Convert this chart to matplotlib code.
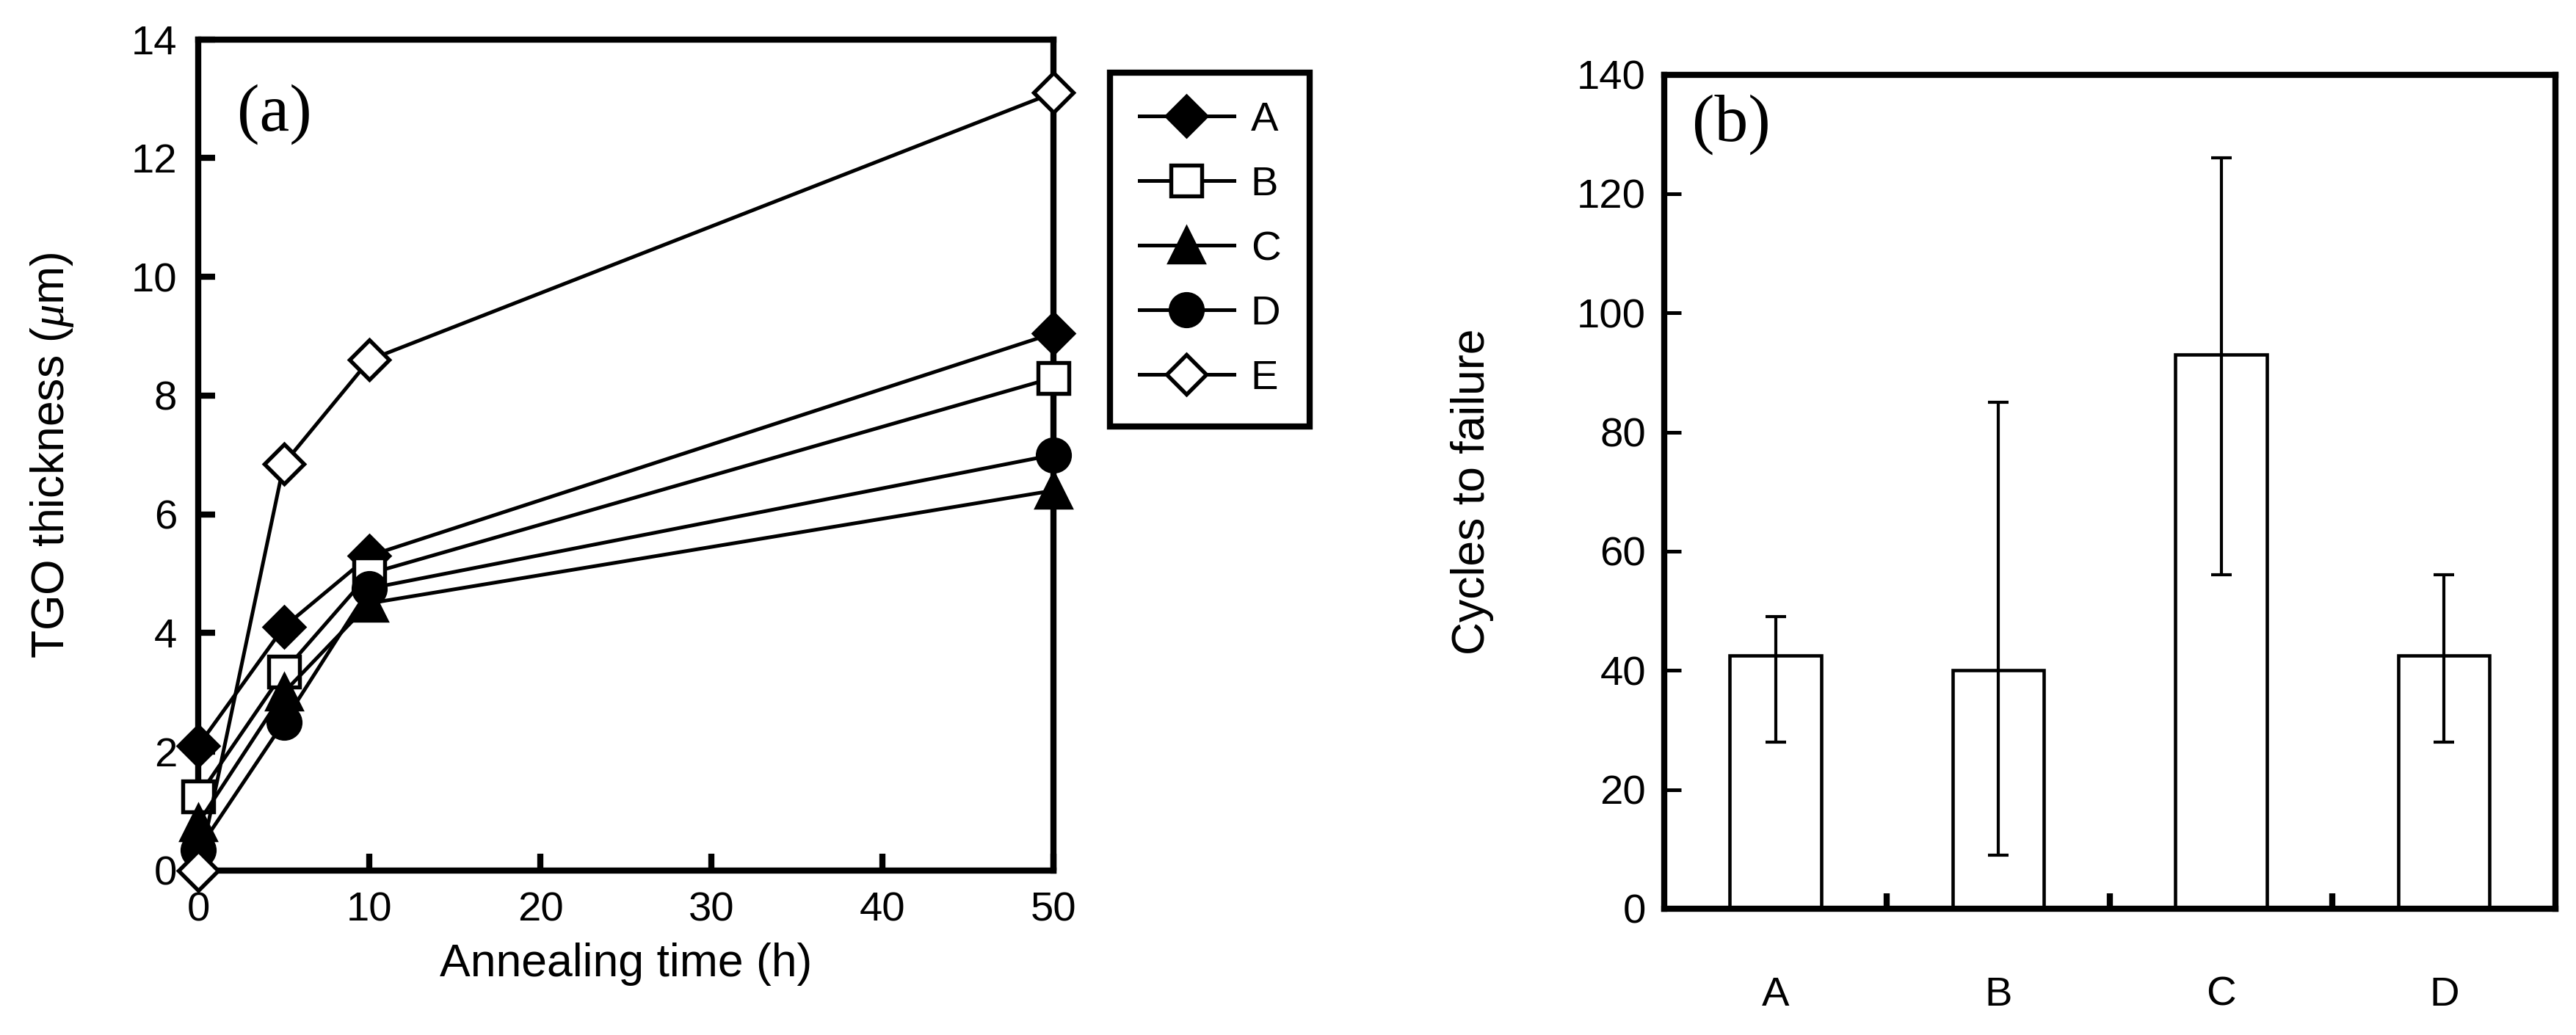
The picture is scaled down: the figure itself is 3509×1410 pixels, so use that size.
import matplotlib
matplotlib.use("Agg")
import matplotlib.pyplot as plt
import numpy as np

plt.rcParams["font.family"] = ["Liberation Sans", "DejaVu Sans"]
plt.rcParams["mathtext.fontset"] = "custom"
plt.rcParams["mathtext.it"] = "Liberation Serif:italic"

# (a) TGO thickness vs annealing time
anneal_h = [0, 5, 10, 50]
series_names = ["A", "B", "C", "D", "E"]
tgo_A = [2.1, 4.1, 5.3, 9.05]
tgo_B = [1.25, 3.35, 5.0, 8.3]
tgo_C = [0.8, 3.0, 4.5, 6.4]
tgo_D = [0.35, 2.5, 4.75, 7.0]
tgo_E = [0.0, 6.85, 8.6, 13.1]

# (b) cycles to failure
coatings = ["A", "B", "C", "D"]
cycles_mean = [42.5, 40, 93, 42.5]
cycles_low = [28, 9, 56, 28]
cycles_high = [49, 85, 126, 56]

TICK_FS = 13.5
LABEL_FS = 15

fig = plt.figure(figsize=(11.697, 4.70), dpi=300)

# ---- panel (a) ----
ax1 = fig.add_axes([0.077, 0.159, 0.332, 0.803])
styles = [
    dict(marker="D", mfc="black", ms=9),
    dict(marker="s", mfc="white", ms=10),
    dict(marker="^", mfc="black", ms=11),
    dict(marker="o", mfc="black", ms=10.5),
    dict(marker="D", mfc="white", ms=9),
]
for name, vals, st in zip(series_names, [tgo_A, tgo_B, tgo_C, tgo_D, tgo_E], styles):
    ax1.plot(anneal_h, vals, color="black", lw=1.2, mec="black", mew=1.3,
             clip_on=False, label=name, zorder=3, **st)

ax1.set_xlim(0, 50)
ax1.set_ylim(0, 14)
ax1.set_xticks(np.arange(0, 51, 10))
ax1.set_yticks(np.arange(0, 15, 2))
ax1.tick_params(direction="in", length=5.5, width=2, labelsize=TICK_FS, pad=7)
for sp in ax1.spines.values():
    sp.set_linewidth(2)
ax1.set_xlabel("Annealing time (h)", fontsize=LABEL_FS, labelpad=4)
ax1.set_ylabel(r"TGO thickness ($\mu$m)", fontsize=LABEL_FS, labelpad=18)
ax1.text(0.045, 0.91, "(a)", transform=ax1.transAxes, fontsize=22,
         family="Liberation Serif", ha="left", va="center")

leg = fig.legend(loc="upper left", bbox_to_anchor=(0.431, 0.930),
                 bbox_transform=fig.transFigure, fontsize=13.5,
                 handlelength=2.3, labelspacing=0.64, borderpad=0.7,
                 handletextpad=0.4, fancybox=False, edgecolor="black",
                 framealpha=1, borderaxespad=0)
leg.get_frame().set_linewidth(2)

# ---- panel (b) ----
ax2 = fig.add_axes([0.646, 0.122, 0.346, 0.806])
pos = np.arange(len(coatings)) + 0.5
mean = np.array(cycles_mean)
yerr = [mean - np.array(cycles_low), np.array(cycles_high) - mean]
ax2.bar(pos, cycles_mean, width=0.41, color="white", edgecolor="black",
        linewidth=1.1, zorder=2)
ax2.errorbar(pos, cycles_mean, yerr=yerr, fmt="none", ecolor="black",
             elinewidth=1.0, capsize=3.3, capthick=1.0, zorder=3)

ax2.set_xlim(0, 4)
ax2.set_ylim(0, 140)
ax2.set_yticks(np.arange(0, 141, 20))
ax2.set_xticks([1, 2, 3])
ax2.set_xticklabels([])
ax2.set_xticks(pos, minor=True)
ax2.set_xticklabels(coatings, minor=True)
ax2.tick_params(axis="x", which="major", direction="in", length=5, width=2)
ax2.tick_params(axis="x", which="minor", length=0, labelsize=TICK_FS, pad=22)
ax2.tick_params(axis="y", direction="in", length=5.5, width=1.2,
                labelsize=TICK_FS, pad=6)
for sp in ax2.spines.values():
    sp.set_linewidth(2)
ax2.set_ylabel("Cycles to failure", fontsize=LABEL_FS, labelpad=27)
ax2.text(0.031, 0.94, "(b)", transform=ax2.transAxes, fontsize=22,
         family="Liberation Serif", ha="left", va="center")

fig.savefig("out.png", dpi=300)
